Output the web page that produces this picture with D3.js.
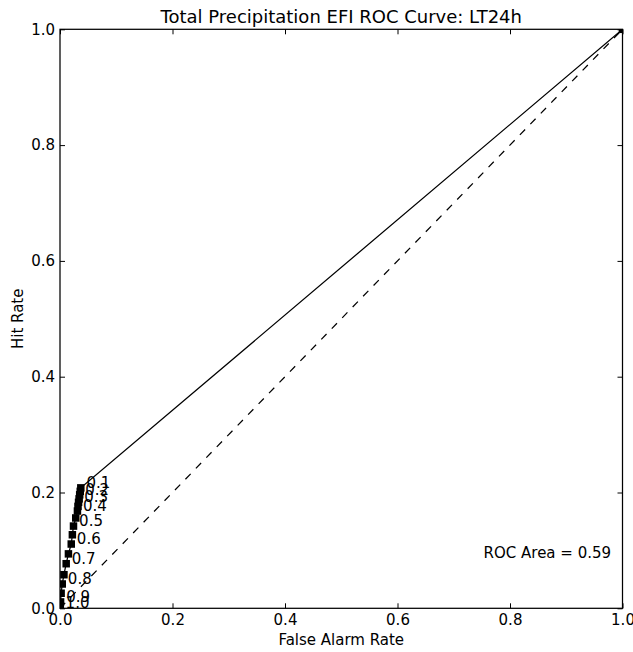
<!DOCTYPE html>
<html>
<head>
<meta charset="utf-8">
<script src="https://cdn.jsdelivr.net/npm/d3@7"></script>
<style>
  html, body { margin: 0; padding: 0; background: #fff; }
  svg { display: block; font-family: "DejaVu Sans", sans-serif; }
</style>
</head>
<body>
<svg id="chart" width="633" height="652"></svg>
<script>
// EFI thresholds along the ROC curve, highest first
const thresholds = [1.0, 0.95, 0.9, 0.85, 0.8, 0.75, 0.7, 0.65, 0.6, 0.55,
                    0.5, 0.45, 0.4, 0.35, 0.3, 0.25, 0.2, 0.15, 0.1];
const falseAlarmRate = [0.000, 0.0005, 0.001, 0.002, 0.004, 0.007, 0.011, 0.015, 0.020, 0.022,
                        0.024, 0.028, 0.031, 0.032, 0.033, 0.034, 0.035, 0.036, 0.037];
const hitRate = [0.000, 0.005, 0.011, 0.026, 0.042, 0.058, 0.077, 0.094, 0.111, 0.127,
                 0.142, 0.156, 0.168, 0.176, 0.183, 0.189, 0.196, 0.202, 0.208];
// curve closes at the (1, 1) corner
const curveEnd = [1.0, 1.0];
// thresholds that get a text label
const labelledThresholds = [1.0, 0.9, 0.8, 0.7, 0.6, 0.5, 0.4, 0.3, 0.2, 0.1];
const tickValues = [0.0, 0.2, 0.4, 0.6, 0.8, 1.0];
const rocArea = 0.59;
const titleText = "Total Precipitation EFI ROC Curve: LT24h";
const xLabel = "False Alarm Rate";
const yLabel = "Hit Rate";

const svg = d3.select("#chart");
const plotLeft = 60, plotRight = 622.5, plotTop = 29.3, plotBottom = 608.3;
const fontSize = 15, titleSize = 18, lw = 1.25;

const x = d3.scaleLinear().domain([0, 1]).range([plotLeft, plotRight]);
const y = d3.scaleLinear().domain([0, 1]).range([plotBottom, plotTop]);

const points = thresholds.map((t, i) => ({ t, far: falseAlarmRate[i], hr: hitRate[i] }));
const curve = points.map(p => [p.far, p.hr]).concat([curveEnd]);

svg.append("defs").append("clipPath").attr("id", "plotClip")
  .append("rect").attr("x", plotLeft).attr("y", plotTop)
  .attr("width", plotRight - plotLeft).attr("height", plotBottom - plotTop);

const plot = svg.append("g").attr("clip-path", "url(#plotClip)");

// no-skill diagonal
plot.append("line")
  .attr("x1", x(0)).attr("y1", y(0)).attr("x2", x(1)).attr("y2", y(1))
  .attr("stroke", "#000").attr("stroke-width", lw)
  .attr("stroke-dasharray", "7.5,7.5");

// ROC curve
plot.append("path")
  .datum(curve)
  .attr("d", d3.line().x(d => x(d[0])).y(d => y(d[1])))
  .attr("fill", "none").attr("stroke", "#000").attr("stroke-width", lw);

const ms = 7.5;
plot.selectAll("rect.marker")
  .data(curve)
  .join("rect")
  .attr("class", "marker")
  .attr("x", d => x(d[0]) - ms / 2)
  .attr("y", d => y(d[1]) - ms / 2)
  .attr("width", ms).attr("height", ms)
  .attr("fill", "#000");

// threshold labels
svg.append("g").selectAll("text")
  .data(points.filter(p => labelledThresholds.some(v => Math.abs(v - p.t) < 1e-9)))
  .join("text")
  .attr("x", d => x(d.far) + 5.6)
  .attr("y", d => y(d.hr))
  .attr("font-size", fontSize)
  .attr("fill", "#000")
  .text(d => d.t.toFixed(1));

// axes with inward ticks on every side
const fmt = d3.format(".1f");
const tick = 5;
const axB = svg.append("g").attr("transform", `translate(0,${plotBottom})`)
  .call(d3.axisBottom(x).tickValues(tickValues).tickFormat(fmt).tickSize(-tick).tickPadding(6));
const axL = svg.append("g").attr("transform", `translate(${plotLeft},0)`)
  .call(d3.axisLeft(y).tickValues(tickValues).tickFormat(fmt).tickSize(-tick).tickPadding(5));
const axT = svg.append("g").attr("transform", `translate(0,${plotTop})`)
  .call(d3.axisTop(x).tickValues(tickValues).tickFormat("").tickSize(-tick));
const axR = svg.append("g").attr("transform", `translate(${plotRight},0)`)
  .call(d3.axisRight(y).tickValues(tickValues).tickFormat("").tickSize(-tick));
[axB, axL, axT, axR].forEach(g => {
  g.select(".domain").remove();
  g.selectAll(".tick line").attr("stroke", "#000").attr("stroke-width", 1);
  g.selectAll(".tick text").attr("font-size", fontSize).attr("fill", "#000")
    .attr("font-family", "DejaVu Sans, sans-serif");
});

// frame
svg.append("rect")
  .attr("x", plotLeft).attr("y", plotTop)
  .attr("width", plotRight - plotLeft).attr("height", plotBottom - plotTop)
  .attr("fill", "none").attr("stroke", "#000").attr("stroke-width", lw);

// annotation
svg.append("text")
  .attr("x", x(0.753)).attr("y", y(0.087))
  .attr("font-size", fontSize).attr("fill", "#000")
  .text(`ROC Area = ${rocArea.toFixed(2)}`);

// titles
svg.append("text")
  .attr("x", (plotLeft + plotRight) / 2).attr("y", 23)
  .attr("text-anchor", "middle").attr("font-size", titleSize).attr("fill", "#000")
  .text(titleText);
svg.append("text")
  .attr("x", (plotLeft + plotRight) / 2).attr("y", 645)
  .attr("text-anchor", "middle").attr("font-size", fontSize).attr("fill", "#000")
  .text(xLabel);
svg.append("text")
  .attr("transform", `translate(23,${(plotTop + plotBottom) / 2}) rotate(-90)`)
  .attr("text-anchor", "middle").attr("font-size", fontSize).attr("fill", "#000")
  .text(yLabel);
</script>
</body>
</html>
